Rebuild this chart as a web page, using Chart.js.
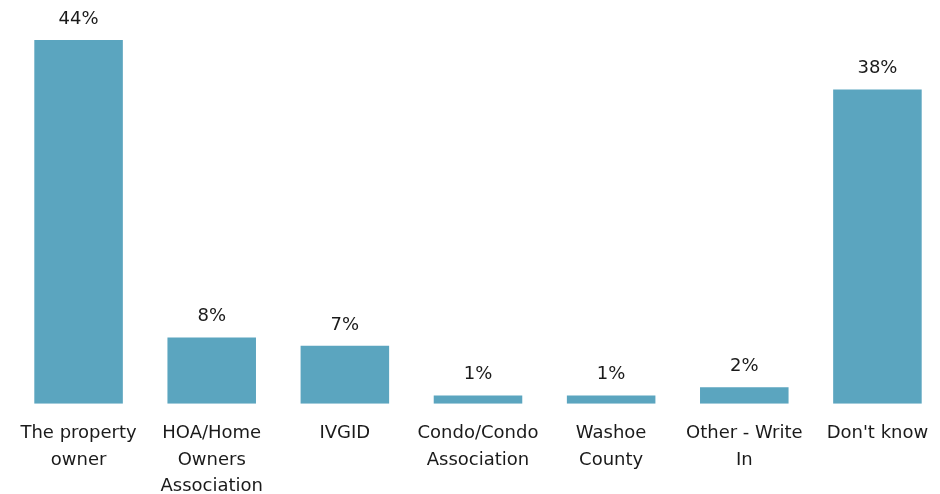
<!DOCTYPE html>
<html>
<head>
    <title>Responsibility</title>
    <script src="https://cdn.jsdelivr.net/npm/chart.js"></script>
    <style>
        body { margin: 0; overflow: hidden; background: #fff; }
    </style>
</head>
<body>
    <div style="width: 944px; height: 508px;">
        <canvas id="myChart"></canvas>
    </div>
    <script>
        const categories = [
            ['The property', 'owner'],
            ['HOA/Home', 'Owners', 'Association'],
            'IVGID',
            ['Condo/Condo', 'Association'],
            ['Washoe', 'County'],
            ['Other - Write', 'In'],
            "Don't know"
        ];
        const percents = [44, 8, 7, 1, 1, 2, 38];

        const fontFamily = '"DejaVu Sans", Verdana, sans-serif';

        // percent labels above each bar
        const barLabels = {
            id: 'barLabels',
            afterDatasetsDraw(chart) {
                const ctx = chart.ctx;
                const meta = chart.getDatasetMeta(0);
                ctx.save();
                ctx.font = '18px ' + fontFamily;
                ctx.fillStyle = '#1a1a1a';
                ctx.textAlign = 'center';
                ctx.textBaseline = 'bottom';
                meta.data.forEach((bar, i) => {
                    ctx.fillText(percents[i] + '%', bar.x, bar.y - 12);
                });
                ctx.restore();
            }
        };

        const ctx = document.getElementById('myChart').getContext('2d');
        const myChart = new Chart(ctx, {
            type: 'bar',
            data: {
                labels: categories,
                datasets: [{
                    data: percents,
                    backgroundColor: '#5ba5bf',
                    borderWidth: 0,
                    barPercentage: 0.665,
                    categoryPercentage: 1,
                }],
            },
            options: {
                responsive: true,
                maintainAspectRatio: false,
                animation: false,
                layout: { padding: { top: 40, left: 12, right: 0, bottom: 0 } },
                plugins: {
                    legend: { display: false },
                    tooltip: { enabled: false },
                },
                scales: {
                    x: {
                        grid: { display: false },
                        border: { display: false },
                        ticks: {
                            color: '#1a1a1a',
                            font: { family: fontFamily, size: 18, lineHeight: 1.45 },
                            padding: 9,
                            maxRotation: 0,
                            autoSkip: false,
                        },
                    },
                    y: {
                        display: false,
                        min: 0,
                        max: 44,
                    },
                },
            },
            plugins: [barLabels],
        });
    </script>
</body>
</html>
